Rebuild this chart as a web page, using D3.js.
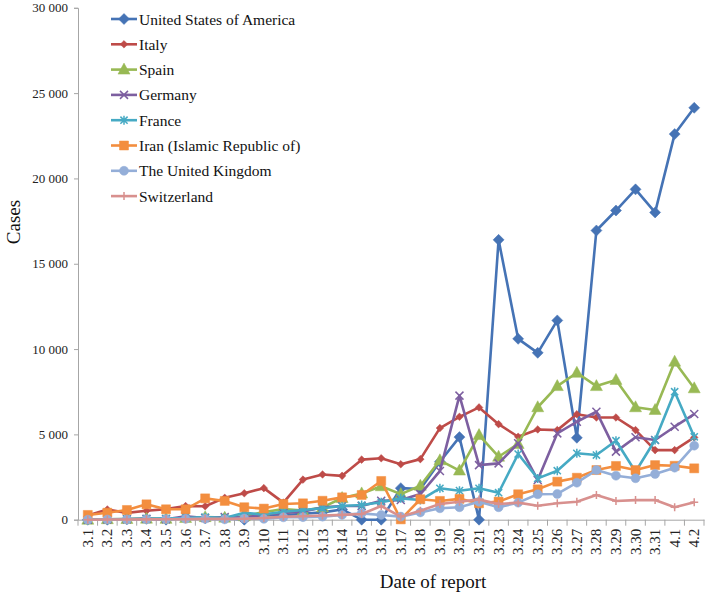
<!DOCTYPE html>
<html><head><meta charset="utf-8">
<script src="https://cdn.jsdelivr.net/npm/d3@7"></script>
<style>body{margin:0;background:#fff}svg{display:block}</style>
</head><body>
<svg id="chart" width="709" height="597"></svg>
<script>
const categories = ["3.1","3.2","3.3","3.4","3.5","3.6","3.7","3.8","3.9","3.10","3.11","3.12","3.13","3.14","3.15","3.16","3.17","3.18","3.19","3.20","3.21","3.23","3.24","3.25","3.26","3.27","3.28","3.29","3.30","3.31","4.1","4.2"];
const seriesNames = ["United States of America","Italy","Spain","Germany","France","Iran (Islamic Republic of)","The United Kingdom","Switzerland"];
const usa =         [0,0,20,50,0,120,80,100,0,280,260,350,430,600,0,0,1850,1800,3400,4840,0,16400,10600,9780,11680,4800,16950,18120,19360,18010,22600,24140];
const italy =       [250,600,400,520,620,800,790,1280,1550,1850,1000,2350,2650,2570,3520,3600,3250,3550,5370,6030,6580,5600,4860,5290,5250,6180,5990,5990,5250,4080,4080,4820];
const spain =       [0,30,40,60,50,100,150,120,200,450,620,530,720,1270,1540,1960,1500,1990,3480,2880,4960,3690,4440,6590,7830,8610,7830,8190,6590,6430,9260,7700];
const germany =     [0,20,30,50,30,200,100,150,120,300,390,470,730,800,800,1110,1150,1500,2850,7270,3200,3300,4480,2330,5060,5740,6330,3990,4830,4670,5450,6190];
const france =      [0,30,40,50,80,100,150,100,400,300,470,570,670,800,860,1020,1250,1150,1840,1700,1840,1580,3850,2420,2870,3890,3790,4630,2810,4670,7500,4860];
const iran =        [280,410,570,900,610,610,1250,1100,730,650,920,960,1110,1310,1450,2270,20,1200,1100,1220,960,1060,1490,1780,2230,2460,2910,3150,2910,3200,3160,3010];
const uk =          [0,10,10,20,30,50,50,20,70,50,140,150,180,280,370,280,180,430,670,730,1050,730,1000,1490,1510,2170,2910,2580,2430,2680,3050,4340];
const switzerland = [0,10,10,20,30,30,50,50,60,100,180,200,250,280,330,800,180,530,920,1050,1190,920,1000,820,960,1050,1450,1100,1150,1150,730,1020];
const yTicks = [0,5000,10000,15000,20000,25000,30000];

const seriesValues = [usa, italy, spain, germany, france, iran, uk, switzerland];
const colors = ["#4573B5","#BE4B48","#98B954","#7D5FA0","#46AAC4","#F38E3F","#94AED8","#D8908E"];
const markers = ["diamond","diamondSmall","triangle","x","asterisk","square","circle","plus"];

const svg = d3.select("#chart");
const mLeft = 78, mRight = 704, mTop = 7.8, mBottom = 519.7;
const x = d3.scaleBand().domain(categories).range([mLeft, mRight]);
const y = d3.scaleLinear().domain([0, 30000]).range([mBottom, mTop]);
const font = "'Liberation Serif','Times New Roman',serif";
const fmt = v => d3.format(",")(v).replace(/,/g, " ");

// y axis
const yAxis = svg.append("g").attr("transform", `translate(${mLeft},0)`)
  .call(d3.axisLeft(y).tickValues(yTicks).tickSize(4).tickPadding(6).tickFormat(fmt));
yAxis.select(".domain").attr("stroke", "#a6a6a6");
yAxis.selectAll(".tick line").attr("stroke", "#a6a6a6");
yAxis.selectAll("text").attr("font-family", font).attr("font-size", 13).attr("fill", "#222");

// x axis
const xAxis = svg.append("g").attr("transform", `translate(0,${mBottom})`)
  .call(d3.axisBottom(x).tickSize(0).tickPadding(0));
xAxis.select(".domain").attr("stroke", "#a6a6a6");
xAxis.selectAll(".bt").data(d3.range(categories.length + 1)).enter().append("line")
  .attr("class", "bt")
  .attr("x1", i => mLeft + i * x.step()).attr("x2", i => mLeft + i * x.step())
  .attr("y1", 0).attr("y2", 6).attr("stroke", "#a6a6a6");
xAxis.selectAll(".tick text")
  .attr("font-family", font).attr("font-size", 15).attr("fill", "#222")
  .attr("transform", "rotate(-90)")
  .attr("text-anchor", "end").attr("dominant-baseline", "central")
  .attr("x", -9).attr("y", 0).attr("dy", null);

// titles
svg.append("text").attr("x", 433).attr("y", 588).attr("text-anchor", "middle")
  .attr("font-family", font).attr("font-size", 19).attr("fill", "#111").text("Date of report");
svg.append("text").attr("transform", "translate(20,222) rotate(-90)").attr("text-anchor", "middle")
  .attr("font-family", font).attr("font-size", 19).attr("fill", "#111").text("Cases");

function markerPath(type) {
  switch (type) {
    case "diamond": return "M0,-5.5L5.5,0L0,5.5L-5.5,0Z";
    case "diamondSmall": return "M0,-3.8L3.8,0L0,3.8L-3.8,0Z";
    case "triangle": return "M0,-6.5L6,4.5L-6,4.5Z";
    case "x": return "M-4,-4L4,4M-4,4L4,-4";
    case "asterisk": return "M-3.6,-3.6L3.6,3.6M-3.6,3.6L3.6,-3.6M0,-4.5L0,4.5";
    case "square": return "M-4.5,-4.5H4.5V4.5H-4.5Z";
    case "circle": return d3.symbol(d3.symbolCircle, 64)();
    case "plus": return "M-4,0H4M0,-4V4";
  }
}
const strokeMarkers = new Set(["x","asterisk","plus"]);

const line = d3.line().x((d, i) => x(categories[i]) + x.bandwidth() / 2).y(d => y(d));

seriesValues.forEach((vals, s) => {
  const g = svg.append("g");
  g.append("path").attr("d", line(vals)).attr("fill", "none")
    .attr("stroke", colors[s]).attr("stroke-width", 2.6).attr("stroke-linejoin", "round");
  g.selectAll("path.m").data(vals).enter().append("path").attr("class", "m")
    .attr("transform", (d, i) => `translate(${x(categories[i]) + x.bandwidth() / 2},${y(d)})`)
    .attr("d", markerPath(markers[s]))
    .attr("fill", strokeMarkers.has(markers[s]) ? "none" : colors[s])
    .attr("stroke", colors[s]).attr("stroke-width", strokeMarkers.has(markers[s]) ? 1.5 : 0.5);
});

// legend
const lg = svg.append("g");
seriesNames.forEach((name, s) => {
  const cy = 19 + s * 25.3;
  lg.append("line").attr("x1", 111).attr("x2", 137).attr("y1", cy).attr("y2", cy)
    .attr("stroke", colors[s]).attr("stroke-width", 2.6);
  lg.append("path").attr("transform", `translate(124,${cy})`).attr("d", markerPath(markers[s]))
    .attr("fill", strokeMarkers.has(markers[s]) ? "none" : colors[s])
    .attr("stroke", colors[s]).attr("stroke-width", strokeMarkers.has(markers[s]) ? 1.5 : 0.5);
  lg.append("text").attr("x", 139).attr("y", cy).attr("dominant-baseline", "central")
    .attr("font-family", font).attr("font-size", 15.5).attr("fill", "#111").text(name);
});
</script>
</body></html>
